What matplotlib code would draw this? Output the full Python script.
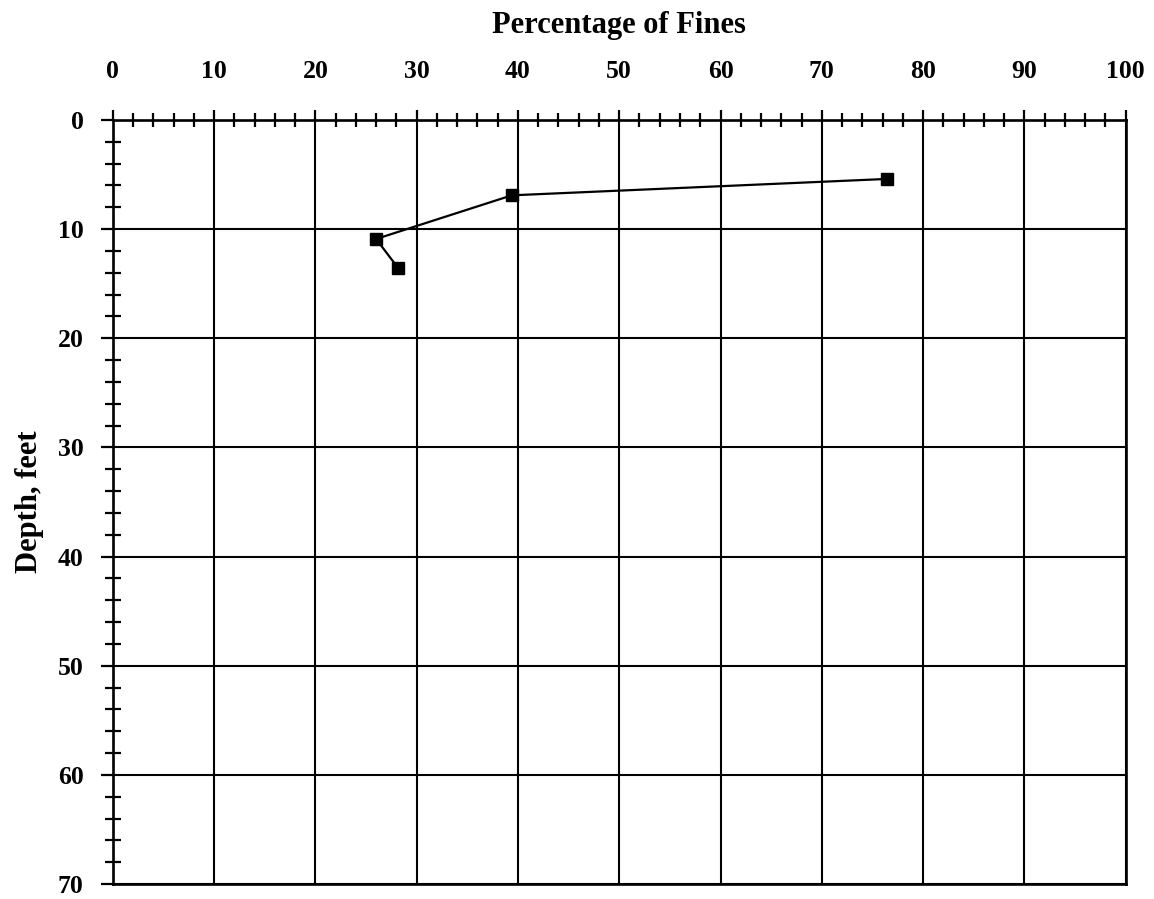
import matplotlib
matplotlib.use("Agg")
import matplotlib.pyplot as plt
from matplotlib.ticker import MultipleLocator

# Fines content with depth
fines_pct = [76.4, 39.4, 26.0, 28.2]
depth_ft = [5.4, 6.9, 10.9, 13.6]

x_ticks = [0, 10, 20, 30, 40, 50, 60, 70, 80, 90, 100]
y_ticks = [0, 10, 20, 30, 40, 50, 60, 70]

plt.rcParams["font.family"] = ["Liberation Serif", "DejaVu Serif"]

DPI = 100
fig = plt.figure(figsize=(11.54, 8.99), dpi=DPI)
ax = fig.add_axes([0.0977, 0.0167, 0.8778, 0.8498])

px = 72.0 / DPI  # points per pixel

ax.set_xlim(0, 100)
ax.set_ylim(70, 0)

ax.grid(True, which="major", color="black", linewidth=1.5)
ax.set_axisbelow(True)

ax.plot(fines_pct, depth_ft, color="black", linewidth=1.6,
        marker="s", markersize=8, markerfacecolor="black",
        markeredgecolor="black", zorder=3)

ax.xaxis.set_ticks_position("top")
ax.xaxis.set_label_position("top")
ax.set_xticks(x_ticks)
ax.set_yticks(y_ticks)
ax.xaxis.set_minor_locator(MultipleLocator(2))
ax.yaxis.set_minor_locator(MultipleLocator(2))

ax.tick_params(axis="x", which="major", direction="out", length=10 * px,
               width=1.6, pad=27 * px, labelsize=18.5)
ax.tick_params(axis="x", which="minor", direction="inout", length=14 * px,
               width=1.6)
ax.tick_params(axis="y", which="major", direction="out", length=12 * px,
               width=1.6, pad=17 * px, labelsize=18.5)
ax.tick_params(axis="y", which="minor", direction="inout", length=16 * px,
               width=1.6)
for lbl in ax.get_xticklabels() + ax.get_yticklabels():
    lbl.set_fontweight("bold")

for side in ("top", "left", "bottom", "right"):
    ax.spines[side].set_linewidth(1.9)

ax.set_xlabel("Percentage of Fines", fontsize=22, fontweight="bold", labelpad=19.5)
ax.set_ylabel("Depth, feet", fontsize=22, fontweight="bold", labelpad=10)

fig.savefig("out.png", dpi=DPI, facecolor="white")
